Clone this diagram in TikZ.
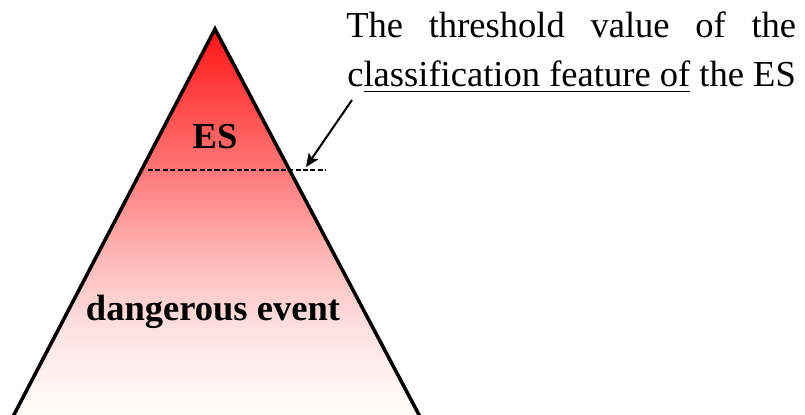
\documentclass[tikz,border=0pt]{standalone}
\usepackage{fontspec}
\setmainfont{Liberation Serif}
\usetikzlibrary{arrows.meta,positioning}
\definecolor{esred}{RGB}{255,20,20}
\definecolor{esmid}{RGB}{255,122,122}
\definecolor{eslight}{RGB}{255,187,187}
\definecolor{espale}{RGB}{255,224,224}
\pgfdeclareverticalshading{pyramidfade}{100bp}{color(0bp)=(white); color(26bp)=(white); color(38bp)=(espale); color(46bp)=(eslight); color(57bp)=(esmid); color(75bp)=(esred); color(100bp)=(esred)}
\newcommand{\ulpart}[1]{\setbox0\hbox{#1}\rlap{\rule[-3.6pt]{\wd0}{1pt}}\box0\relax}

\begin{document}
\begin{tikzpicture}[
    x=0.02cm, y=-0.02cm,
    level/.style={font=\fontsize{20.8}{25}\selectfont\bfseries, inner sep=0pt},
    note/.style={font=\fontsize{20.8}{25}\selectfont, inner sep=0pt},
    threshold/.style={line width=1.15pt, dash pattern=on 2.9pt off 1.3pt},
    >={Stealth[length=7.5pt,width=6.5pt,inset=1.5pt]}
]
    \useasboundingbox (0,0) rectangle (805,414);
    \clip (0,0) rectangle (805,414);

    % Pyramid
    \coordinate (apex) at (215,29);
    \coordinate (bl) at (6,430);
    \coordinate (br) at (427,430);
    \shade[shading=pyramidfade] (apex) -- (br) -- (bl) -- cycle;
    \draw[line width=2pt, line join=miter] (bl) -- (apex) -- (br);

    % Threshold
    \coordinate (thrL) at (148,170);
    \coordinate (thrR) at (326,170);
    \draw[threshold] (thrL) -- (thrR);

    % Levels
    \node[level, anchor=base] (es) at (215,148) {ES};
    \node[level, anchor=base] (danger) at (213,320) {dangerous event};

    % Annotation
    \node[note, anchor=base west] (line1) at (346,37) {\makebox[256pt][s]{The threshold value of the}};
    \node[note, anchor=base west] (line2) at (347,86) {c\ulpart{lassification feature of} the ES};
    \coordinate (tail) at (352,100);
    \coordinate (tip) at (306,167);
    \draw[->, line width=1.15pt] (tail) -- (tip);
\end{tikzpicture}
\end{document}
